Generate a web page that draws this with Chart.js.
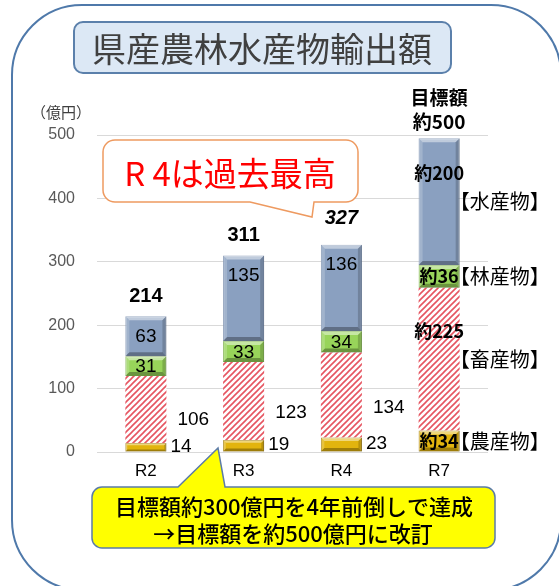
<!DOCTYPE html>
<html><head><meta charset="utf-8">
<script src="https://cdn.jsdelivr.net/npm/chart.js@4/dist/chart.umd.min.js"></script>
<style>html,body{margin:0;padding:0;background:#fff;}canvas{display:block;}</style>
</head><body>
<canvas id="c" width="559" height="586"></canvas>
<script>
const categories = ['R2', 'R3', 'R4', 'R7'];
const seriesNames = ['農産物', '畜産物', '林産物', '水産物'];
const agri = [14, 19, 23, 34];
const livestock = [106, 123, 134, 225];
const forestry = [31, 33, 34, 36];
const fishery = [63, 135, 136, 200];
const totalLabels = ['214', '311', '327', '約500'];
const yTicks = [0, 100, 200, 300, 400, 500];
const targetIndex = 3;
const recordIndex = 2;
const titleText = '県産農林水産物輸出額';
const unitText = '（億円）';
const recordText = 'R 4は過去最高';
const noteLines = ['目標額約300億円を4年前倒しで達成', '→目標額を約500億円に改訂'];

const JP = '"Noto Sans CJK JP", sans-serif';
const NUM = '"Liberation Sans", Arial, sans-serif';

const canvas = document.getElementById('c');
const ctx0 = canvas.getContext('2d');

function makeHatch() {
  const p = document.createElement('canvas');
  p.width = 6; p.height = 6;
  const g = p.getContext('2d');
  g.fillStyle = '#ffffff'; g.fillRect(0, 0, 6, 6);
  g.strokeStyle = '#e65561'; g.lineWidth = 1.6;
  g.beginPath();
  g.moveTo(-1, 7); g.lineTo(7, -1);
  g.moveTo(-1, 1); g.lineTo(1, -1);
  g.moveTo(5, 7); g.lineTo(7, 5);
  g.stroke();
  return ctx0.createPattern(p, 'repeat');
}

function rr(ctx, x, y, w, h, r) {
  ctx.beginPath();
  ctx.moveTo(x + r, y);
  ctx.lineTo(x + w - r, y);
  ctx.arcTo(x + w, y, x + w, y + r, r);
  ctx.lineTo(x + w, y + h - r);
  ctx.arcTo(x + w, y + h, x + w - r, y + h, r);
  ctx.lineTo(x + r, y + h);
  ctx.arcTo(x, y + h, x, y + h - r, r);
  ctx.lineTo(x, y + r);
  ctx.arcTo(x, y, x + r, y, r);
  ctx.closePath();
}

const decor = {
  id: 'decor',
  beforeDraw(chart) {
    const ctx = chart.ctx;
    ctx.save();
    ctx.fillStyle = '#fff';
    ctx.fillRect(0, 0, chart.width, chart.height);
    rr(ctx, 12, 5, 549, 585, 70);
    ctx.strokeStyle = '#4f79aa'; ctx.lineWidth = 2; ctx.stroke();
    rr(ctx, 74, 22, 377, 51, 9);
    ctx.fillStyle = '#dce8f5'; ctx.fill();
    ctx.strokeStyle = '#5b80ab'; ctx.lineWidth = 2; ctx.stroke();
    ctx.fillStyle = '#404040';
    ctx.font = '34px ' + JP;
    ctx.textAlign = 'center'; ctx.textBaseline = 'middle';
    ctx.fillText(titleText, 262, 49);
    ctx.font = '15px ' + JP;
    ctx.fillStyle = '#404040';
    ctx.fillText(unitText, 61, 112);
    ctx.restore();
  },
  afterDatasetsDraw(chart) {
    const ctx = chart.ctx;
    const y = chart.scales.y;
    const metas = [0, 1, 2, 3].map(i => chart.getDatasetMeta(i));
    ctx.save();
    [0, 2, 3].forEach(di => {
      metas[di].data.forEach(el => {
        const l = el.x - el.width / 2, w = el.width, t = el.y, h = el.base - el.y;
        const e = Math.min(4, h / 4);
        ctx.fillStyle = 'rgba(255,255,255,0.45)';
        ctx.beginPath(); ctx.moveTo(l, t); ctx.lineTo(l + w, t); ctx.lineTo(l + w - e, t + e); ctx.lineTo(l + e, t + e); ctx.closePath(); ctx.fill();
        ctx.fillStyle = 'rgba(255,255,255,0.2)';
        ctx.beginPath(); ctx.moveTo(l, t); ctx.lineTo(l + e, t + e); ctx.lineTo(l + e, t + h - e); ctx.lineTo(l, t + h); ctx.closePath(); ctx.fill();
        ctx.fillStyle = 'rgba(0,0,0,0.18)';
        ctx.beginPath(); ctx.moveTo(l + w, t); ctx.lineTo(l + w - e, t + e); ctx.lineTo(l + w - e, t + h - e); ctx.lineTo(l + w, t + h); ctx.closePath(); ctx.fill();
        ctx.fillStyle = 'rgba(0,0,0,0.3)';
        ctx.beginPath(); ctx.moveTo(l, t + h); ctx.lineTo(l + e, t + h - e); ctx.lineTo(l + w - e, t + h - e); ctx.lineTo(l + w, t + h); ctx.closePath(); ctx.fill();
      });
    });
    ctx.textBaseline = 'middle';
    ctx.fillStyle = '#000';
    categories.forEach((c, i) => {
      const g = metas[0].data[i], h = metas[1].data[i], f = metas[2].data[i], b = metas[3].data[i];
      const right = g.x + g.width / 2;
      if (i !== targetIndex) {
        ctx.font = '19px ' + NUM;
        ctx.textAlign = 'left';
        ctx.fillText(String(agri[i]), right + 4, (g.y + g.base) / 2 - 1);
        ctx.fillText(String(livestock[i]), right + 11, y.getPixelForValue(agri[i] + livestock[i] * 0.35));
        ctx.textAlign = 'center';
        ctx.fillText(String(forestry[i]), f.x, (f.y + f.base) / 2 + 1);
        ctx.fillText(String(fishery[i]), b.x, b.y + 20);
        ctx.font = (i === recordIndex ? 'italic ' : '') + 'bold 20px ' + NUM;
        ctx.fillText(totalLabels[i], b.x, b.y - (i === recordIndex ? 26 : 20));
      } else {
        ctx.textAlign = 'center';
        ctx.font = 'bold 18px ' + JP;
        ctx.fillText('約' + agri[i], g.x, (g.y + g.base) / 2);
        ctx.fillText('約' + livestock[i], h.x, h.y + 43);
        ctx.fillText('約' + forestry[i], f.x, (f.y + f.base) / 2);
        ctx.fillText('約' + fishery[i], b.x, b.y + 35);
        ctx.font = 'bold 19px ' + JP;
        ctx.fillText('目標額', b.x, b.y - 40);
        ctx.fillText(totalLabels[i], b.x, b.y - 16);
        ctx.font = '20px ' + JP;
        ctx.textAlign = 'left';
        [g, h, f, b].forEach((el, k) => {
          ctx.fillText('【' + seriesNames[k] + '】', right - 10, (el.y + el.base) / 2);
        });
      }
    });
    ctx.restore();
  },
  afterDraw(chart) {
    const ctx = chart.ctx;
    ctx.save();
    ctx.beginPath();
    const x = 103, yy = 140, w = 255, hh = 62, r = 12;
    ctx.moveTo(x + r, yy);
    ctx.lineTo(x + w - r, yy);
    ctx.arcTo(x + w, yy, x + w, yy + r, r);
    ctx.lineTo(x + w, yy + hh - r);
    ctx.arcTo(x + w, yy + hh, x + w - r, yy + hh, r);
    ctx.lineTo(314, yy + hh);
    ctx.lineTo(312, 217);
    ctx.lineTo(250, yy + hh);
    ctx.lineTo(x + r, yy + hh);
    ctx.arcTo(x, yy + hh, x, yy + hh - r, r);
    ctx.lineTo(x, yy + r);
    ctx.arcTo(x, yy, x + r, yy, r);
    ctx.closePath();
    ctx.fillStyle = '#fff'; ctx.fill();
    ctx.strokeStyle = '#ee9a60'; ctx.lineWidth = 1.5; ctx.stroke();
    ctx.fillStyle = '#ff0000';
    ctx.font = '33px ' + JP;
    ctx.textAlign = 'center'; ctx.textBaseline = 'middle';
    ctx.fillText(recordText, 230, 173);

    const nx = 92, ny = 487, nw = 403, nh = 61, nr = 10;
    ctx.beginPath();
    ctx.moveTo(nx + nr, ny);
    ctx.lineTo(178, ny);
    ctx.lineTo(218, 448);
    ctx.lineTo(225, ny);
    ctx.lineTo(nx + nw - nr, ny);
    ctx.arcTo(nx + nw, ny, nx + nw, ny + nr, nr);
    ctx.lineTo(nx + nw, ny + nh - nr);
    ctx.arcTo(nx + nw, ny + nh, nx + nw - nr, ny + nh, nr);
    ctx.lineTo(nx + nr, ny + nh);
    ctx.arcTo(nx, ny + nh, nx, ny + nh - nr, nr);
    ctx.lineTo(nx, ny + nr);
    ctx.arcTo(nx, ny, nx + nr, ny, nr);
    ctx.closePath();
    ctx.fillStyle = '#ffff00'; ctx.fill();
    ctx.strokeStyle = '#5b7ba8'; ctx.lineWidth = 1.5; ctx.stroke();
    ctx.fillStyle = '#000';
    ctx.font = '500 22px ' + JP;
    ctx.fillText(noteLines[0], 294, 507);
    ctx.fillText(noteLines[1], 293, 534);
    ctx.restore();
  }
};

const hatch = makeHatch();

new Chart(canvas, {
  type: 'bar',
  data: {
    labels: categories,
    datasets: [
      { label: seriesNames[0], data: agri, backgroundColor: '#e2b40e', borderColor: '#a07a00', borderWidth: 1 },
      { label: seriesNames[1], data: livestock, backgroundColor: hatch, borderWidth: 0 },
      { label: seriesNames[2], data: forestry, backgroundColor: '#98d45a', borderColor: '#72a83c', borderWidth: 1 },
      { label: seriesNames[3], data: fishery, backgroundColor: '#8aa0c0', borderColor: '#6f86a8', borderWidth: 1 }
    ]
  },
  options: {
    responsive: false,
    animation: false,
    devicePixelRatio: 1,
    layout: { padding: { left: 0, right: 71, top: 135, bottom: 94 } },
    datasets: { bar: { categoryPercentage: 1, barPercentage: 0.42 } },
    plugins: { legend: { display: false }, tooltip: { enabled: false } },
    scales: {
      x: {
        stacked: true,
        grid: { display: false },
        border: { display: false },
        ticks: { color: '#000', font: { family: NUM, size: 17 }, padding: 1 },
        afterFit(s) { s.height = 40; }
      },
      y: {
        stacked: true,
        min: 0, max: 500,
        afterBuildTicks(s) { s.ticks = yTicks.map(v => ({ value: v })); },
        grid: { color: '#d9d9d9', drawTicks: false },
        border: { display: false },
        ticks: { color: '#595959', font: { family: NUM, size: 16 }, padding: 22 },
        afterFit(s) { s.width = 97; }
      }
    }
  },
  plugins: [decor]
});
</script>
</body></html>
